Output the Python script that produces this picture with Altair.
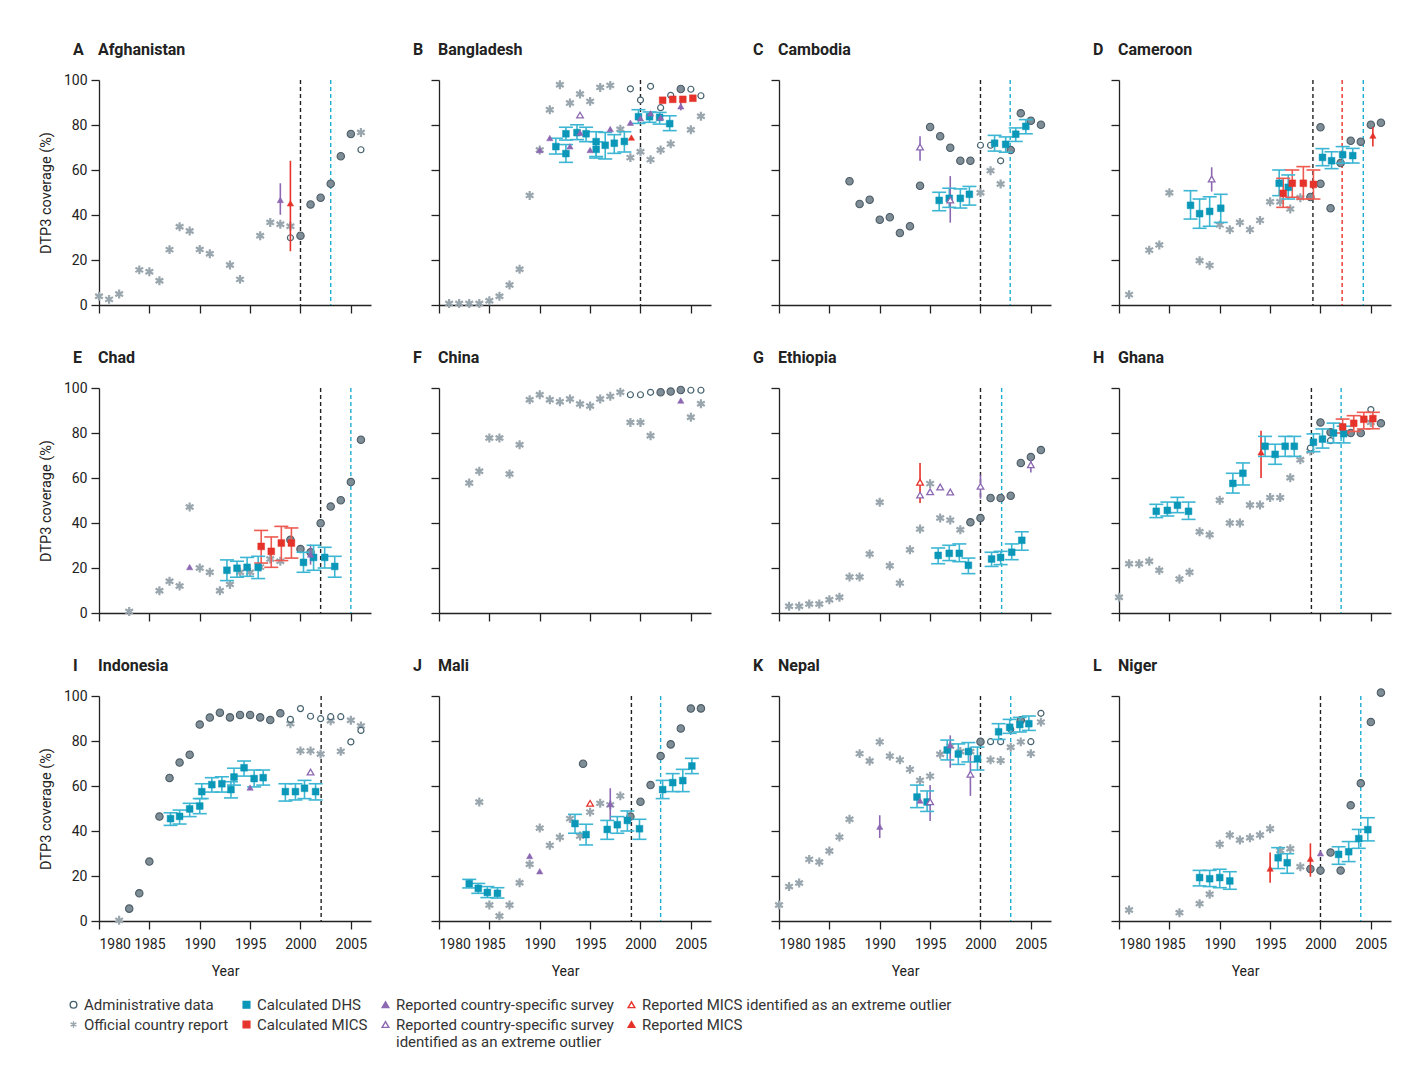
import altair as alt
import pandas as pd

FONT = "Roboto"

# ---------------- type names ----------------
T_ADMIN = "Administrative data"
T_OFF = "Official country report"
T_BOTH = "Administrative data and official country report"
T_DHS = "Calculated DHS"
T_CMICS = "Calculated MICS"
T_SURV = "Reported country-specific survey"
T_SURV_OUT = "Reported country-specific survey identified as an extreme outlier"
T_MICS_OUT = "Reported MICS identified as an extreme outlier"
T_RMICS = "Reported MICS"

# ---------------- data (year, value[, lo, hi]) ----------------
# A Afghanistan
AFG_OFFICIAL = [(1980, 3.9), (1981, 2.5), (1982, 4.9), (1984, 15.6), (1985, 14.8), (1986, 10.8), (1987, 24.6),
                (1988, 34.8), (1989, 32.9), (1990, 24.7), (1991, 22.8), (1993, 17.8), (1994, 11.4), (1996, 30.8),
                (1997, 36.7), (1998, 35.9), (1999, 35.0), (2006, 76.7)]
AFG_ADMIN = [(1999, 29.9), (2006, 69.0)]
AFG_BOTH = [(2000, 30.8), (2001, 44.7), (2002, 47.7), (2003, 53.9), (2004, 66.1), (2005, 76.0)]
AFG_SURVEY = [(1998, 46.7, 40.1, 54.1)]
AFG_RMICS = [(1999, 45.2, 23.9, 64.1)]
AFG_LINES = [(2000, "black"), (2003, "cyan")]

# B Bangladesh
BGD_OFFICIAL = [(1981, 0.7), (1982, 0.7), (1983, 0.7), (1984, 0.7), (1985, 1.9), (1986, 3.9), (1987, 8.9),
                (1988, 15.9), (1989, 48.7), (1990, 68.9), (1991, 86.8), (1992, 97.9), (1993, 89.8), (1994, 93.8),
                (1995, 90.5), (1996, 96.7), (1997, 97.6), (1998, 78.1), (1999, 65.5), (2000, 68.1), (2001, 64.6),
                (2002, 68.9), (2003, 71.6), (2005, 77.9), (2006, 83.9)]
BGD_ADMIN = [(1999, 96.1), (2000, 91.1), (2001, 97.2), (2002, 87.7), (2003, 93.2), (2005, 95.9), (2006, 93.0)]
BGD_BOTH = [(2004, 96.0)]
BGD_DHS = [(1991.6, 70.4, 67.1, 74.1), (1992.6, 76.1, 73.3, 79.0), (1992.6, 67.3, 63.4, 71.3),
           (1993.7, 76.6, 73.5, 80.1), (1994.6, 76.1, 72.6, 79.0), (1995.6, 72.6, 65.3, 77.0),
           (1995.6, 69.2, 66.0, 72.5), (1996.5, 71.0, 64.9, 76.7), (1997.4, 71.9, 67.4, 75.7),
           (1998.4, 72.7, 68.0, 77.0), (1999.8, 83.7, 80.7, 86.8), (2000.9, 83.7, 81.2, 85.8),
           (2001.9, 83.4, 80.4, 85.6), (2002.9, 80.6, 77.5, 84.1)]
BGD_CMICS = [(2002.2, 91.0), (2003.2, 91.4), (2004.2, 91.4), (2005.2, 91.9)]
BGD_SURVEY = [(1990, 68.9), (1991, 74.2), (1993, 70.5), (1994, 76.6), (1995, 68.9), (1997, 78.2), (1999, 81.0),
              (2000, 83.0), (2001, 85.2), (2002, 83.3), (2004, 88.3, 86.5, 90.5)]
BGD_SURVEY_OUT = [(1994, 84.4)]
BGD_RMICS = [(1999.1, 74.4)]
BGD_LINES = [(2000, "black")]

# C Cambodia
KHM_BOTH = [(1987, 55.0), (1988, 44.9), (1989, 46.8), (1990, 37.9), (1991, 39.0), (1992, 32.0), (1993, 35.0),
            (1994, 53.0), (1995, 79.1), (1996, 75.0), (1997, 69.9), (1998, 64.1), (1999, 64.1), (2003, 68.9),
            (2004, 85.2), (2005, 81.9), (2006, 80.1)]
KHM_ADMIN = [(2000, 71.0), (2001, 71.0), (2002, 64.1)]
KHM_OFFICIAL = [(2000, 49.9), (2001, 59.7), (2002, 53.8)]
KHM_DHS = [(1995.9, 46.5, 41.9, 50.1), (1996.9, 47.4, 43.4, 51.9), (1998.0, 47.4, 43.1, 51.6),
           (1998.9, 49.2, 44.4, 52.7), (2001.4, 71.9, 68.4, 75.4), (2002.5, 71.4, 67.9, 74.7),
           (2003.5, 75.9, 72.7, 78.7), (2004.5, 79.4, 76.1, 82.4)]
KHM_SURVEY_OUT = [(1994, 70.2, 64.1, 75.0), (1997, 46.7, 36.6, 57.3)]
KHM_LINES = [(2000, "black"), (2002.95, "cyan")]

# D Cameroon
CMR_OFFICIAL = [(1981, 4.6), (1983, 24.4), (1984, 26.7), (1985, 49.9), (1988, 19.7), (1989, 17.6), (1990, 35.6),
                (1991, 33.5), (1992, 36.7), (1993, 33.5), (1994, 37.6), (1995, 45.9), (1996, 45.9), (1997, 42.7),
                (1998, 47.7)]
CMR_BOTH = [(1999, 48.0), (2000, 79.0), (2000, 53.9), (2001, 43.0), (2002, 63.1), (2003, 73.0), (2004, 72.6),
            (2005, 80.1), (2006, 81.0)]
CMR_DHS = [(1987.1, 44.3, 38.2, 50.8), (1988.0, 40.6, 34.1, 47.1), (1989.0, 41.6, 35.0, 48.1),
           (1990.1, 43.0, 36.7, 49.2), (1995.9, 54.1, 48.6, 60.0), (1996.8, 52.3, 47.1, 57.8),
           (2000.2, 65.6, 61.9, 69.5), (2001.1, 64.1, 60.6, 68.1), (2002.2, 66.8, 63.0, 70.4),
           (2003.2, 66.4, 63.1, 69.6)]
CMR_CMICS = [(1996.3, 49.6, 43.4, 56.3), (1997.2, 54.1, 47.9, 60.0), (1998.3, 54.1, 47.1, 61.5),
             (1999.3, 53.6, 47.1, 60.0)]
CMR_SURVEY_OUT = [(1989.2, 56.0, 50.4, 61.2)]
CMR_RMICS = [(2005.2, 75.3, 70.4, 79.0)]
CMR_LINES = [(1999.25, "black"), (2002.15, "red"), (2004.25, "cyan")]

# E Chad
TCD_OFFICIAL = [(1983, 0.7), (1986, 9.9), (1987, 14.1), (1988, 12.0), (1989, 47.1), (1990, 20.0), (1991, 18.1),
                (1992, 9.9), (1993, 12.7), (1994, 18.1), (1995, 18.1), (1996, 20.4), (1997, 24.0), (1998, 23.0)]
TCD_BOTH = [(1999, 32.6), (2000, 28.4), (2001, 27.0), (2002, 39.9), (2003, 47.3), (2004, 50.1), (2005, 58.2),
            (2006, 77.0)]
TCD_SURVEY = [(1989, 20.4), (2001, 26.0, 21.5, 30.4)]
TCD_DHS = [(1992.7, 19.0, 14.4, 23.6), (1993.7, 19.9, 15.9, 23.0), (1994.7, 20.3, 16.3, 24.7),
           (1995.8, 20.3, 15.3, 25.2), (2000.3, 22.5, 18.1, 27.0), (2001.3, 24.7, 19.0, 30.1),
           (2002.4, 24.7, 20.0, 29.2), (2003.4, 20.7, 15.9, 25.2)]
TCD_CMICS = [(1996.1, 29.6, 22.2, 36.7), (1997.1, 27.4, 20.3, 33.8), (1998.1, 31.1, 23.3, 38.5),
             (1999.1, 31.1, 24.4, 37.8)]
TCD_LINES = [(2002, "black"), (2005, "cyan")]

# F China
CHN_OFFICIAL = [(1983, 57.8), (1984, 63.0), (1985, 77.8), (1986, 77.8), (1987, 61.8), (1988, 74.8), (1989, 94.8),
                (1990, 97.0), (1991, 94.8), (1992, 93.9), (1993, 95.1), (1994, 92.9), (1995, 92.0), (1996, 95.1),
                (1997, 96.3), (1998, 98.1), (1999, 84.7), (2000, 84.7), (2001, 78.8), (2005, 87.0), (2006, 93.0)]
CHN_ADMIN = [(1999, 97.0), (2000, 97.0), (2001, 98.1), (2005, 99.0), (2006, 99.0)]
CHN_BOTH = [(2002, 98.1), (2003, 98.4), (2004, 99.1)]
CHN_SURVEY = [(2004, 94.4)]
CHN_LINES = []

# G Ethiopia
ETH_OFFICIAL = [(1981, 3.0), (1982, 3.0), (1983, 4.0), (1984, 4.0), (1985, 5.9), (1986, 7.0), (1987, 16.0),
                (1988, 16.0), (1989, 26.2), (1990, 49.2), (1991, 21.0), (1992, 13.3), (1993, 28.1), (1994, 37.3),
                (1995, 57.5), (1996, 42.2), (1997, 41.3), (1998, 37.0)]
ETH_BOTH = [(1999, 40.3), (2000, 42.2), (2001, 51.1), (2002, 51.1), (2003, 52.1), (2004, 66.7), (2005, 69.3),
            (2006, 72.4)]
ETH_MICS_OUT = [(1994, 58.1, 48.9, 66.7)]
ETH_SURVEY_OUT = [(1994, 52.4), (1995, 53.9), (1996, 56.0), (1997, 53.8), (2000, 56.3, 50.8, 61.5),
                  (2005, 65.9, 62.5, 68.1)]
ETH_DHS = [(1995.8, 25.6, 21.9, 28.9), (1996.9, 26.5, 23.3, 30.1), (1997.9, 26.5, 22.8, 30.7),
           (1998.8, 21.2, 17.5, 24.4), (2001.1, 24.0, 20.7, 27.0), (2002.0, 24.7, 21.5, 27.4),
           (2003.1, 27.0, 23.7, 30.7), (2004.1, 32.3, 27.9, 36.1)]
ETH_LINES = [(2000, "black"), (2002.1, "cyan")]

# H Ghana
GHA_OFFICIAL = [(1980, 7.0), (1981, 21.9), (1982, 21.9), (1983, 23.0), (1984, 19.0), (1986, 15.1), (1987, 18.1),
                (1988, 36.1), (1989, 34.8), (1990, 50.1), (1991, 40.0), (1992, 40.0), (1993, 48.0), (1994, 48.0),
                (1995, 51.3), (1996, 51.3), (1997, 60.1), (1998, 68.1), (1999, 72.0), (2005, 84.7)]
GHA_ADMIN = [(1999, 73.3), (2001, 76.6), (2005, 90.4)]
GHA_BOTH = [(2000, 84.7), (2001, 80.3), (2003, 80.0), (2004, 80.0), (2006, 84.3)]
GHA_DHS = [(1983.7, 45.2, 42.4, 48.3), (1984.8, 45.6, 43.1, 49.3), (1985.8, 47.9, 44.6, 51.4),
           (1986.9, 45.2, 41.6, 49.3), (1991.3, 57.6, 53.3, 62.1), (1992.3, 62.1, 56.9, 66.7),
           (1994.5, 74.1, 69.6, 78.5), (1995.5, 70.5, 66.1, 75.0), (1996.5, 74.1, 69.6, 78.5),
           (1997.4, 74.1, 69.6, 78.5), (1999.3, 75.9, 71.7, 79.6), (2000.2, 77.3, 73.3, 81.8),
           (2001.3, 80.0, 75.6, 84.4), (2002.3, 79.7, 75.6, 83.0)]
GHA_CMICS = [(2002.2, 82.7, 80.0, 86.2), (2003.3, 84.3, 80.7, 87.7), (2004.3, 86.1, 81.8, 89.2),
             (2005.2, 86.4, 81.9, 89.2)]
GHA_RMICS = [(1994.1, 71.4, 60.0, 81.0)]
GHA_LINES = [(1999.1, "black"), (2002.05, "cyan")]

# I Indonesia
IDN_BOTH = [(1983, 5.5), (1984, 12.3), (1985, 26.4), (1986, 46.4), (1987, 63.6), (1988, 70.4), (1989, 73.9),
            (1990, 87.3), (1991, 90.4), (1992, 92.6), (1993, 90.5), (1994, 91.6), (1995, 91.6), (1996, 90.5),
            (1997, 89.3), (1998, 92.3)]
IDN_OFFICIAL = [(1982, 0.3), (1999, 87.7), (2000, 75.6), (2001, 75.6), (2002, 74.2), (2003, 89.0), (2004, 75.4),
                (2005, 89.2), (2006, 86.7)]
IDN_ADMIN = [(1999, 89.6), (2000, 94.4), (2001, 91.0), (2002, 89.9), (2003, 90.8), (2004, 90.8), (2005, 79.6),
             (2006, 84.7)]
IDN_DHS = [(1987.1, 45.5, 42.5, 48.1), (1988.0, 46.5, 43.1, 49.3), (1989.0, 49.8, 46.4, 52.3),
           (1990.0, 51.1, 47.7, 54.4), (1990.2, 57.5, 54.4, 61.0), (1991.2, 60.6, 57.3, 63.7),
           (1992.2, 61.0, 57.3, 64.1), (1993.1, 58.4, 54.7, 61.9), (1993.4, 64.0, 60.4, 67.9),
           (1994.4, 68.1, 64.4, 71.1), (1995.4, 63.3, 59.6, 67.1), (1996.3, 63.7, 60.4, 67.1),
           (1998.5, 57.5, 53.3, 61.0), (1999.5, 57.5, 53.8, 61.0), (2000.4, 59.0, 54.4, 62.5),
           (2001.5, 57.5, 53.8, 61.0)]
IDN_SURVEY = [(1995, 59.3)]
IDN_SURVEY_OUT = [(2001, 66.2)]
IDN_LINES = [(2002.05, "black")]

# J Mali
MLI_OFFICIAL = [(1984, 52.9), (1985, 7.1), (1986, 2.2), (1987, 7.1), (1988, 17.0), (1989, 25.2), (1990, 41.3),
                (1991, 33.6), (1992, 37.2), (1993, 45.5), (1994, 37.8), (1995, 48.4), (1996, 52.3), (1997, 51.6),
                (1998, 55.6)]
MLI_BOTH = [(1994.3, 69.9), (1999, 46.4), (2000, 53.0), (2001, 60.4), (2002, 73.3), (2003, 78.5), (2004, 85.6),
            (2005, 94.4), (2006, 94.5)]
MLI_SURVEY = [(1989, 28.9), (1990, 22.1), (1997, 52.0, 44.9, 59.0)]
MLI_MICS_OUT = [(1995, 52.3)]
MLI_DHS = [(1983.0, 16.6, 14.7, 18.5), (1983.9, 14.5, 12.3, 16.7), (1984.8, 12.7, 10.4, 15.3),
           (1985.8, 12.3, 10.2, 14.8), (1993.5, 43.3, 39.0, 47.4), (1994.6, 38.4, 33.8, 43.0),
           (1996.7, 40.7, 36.3, 44.7), (1997.7, 42.8, 39.0, 46.4), (1998.7, 44.7, 40.0, 48.9),
           (1999.9, 41.0, 36.3, 45.2), (2002.2, 58.4, 54.4, 62.5), (2003.2, 61.5, 57.5, 65.5),
           (2004.2, 62.4, 57.5, 67.4), (2005.1, 68.9, 65.5, 72.3)]
MLI_LINES = [(1999.1, "black"), (2002, "cyan")]

# K Nepal
NPL_OFFICIAL = [(1980, 7.1), (1981, 15.3), (1982, 16.9), (1983, 27.4), (1984, 26.2), (1985, 31.1), (1986, 37.3),
                (1987, 45.2), (1988, 74.4), (1989, 71.1), (1990, 79.6), (1991, 73.3), (1992, 71.6), (1993, 67.4),
                (1994, 62.5), (1995, 64.4), (1996, 74.1), (1997, 77.8), (1998, 75.3), (1999, 75.3), (2001, 71.6),
                (2002, 71.3), (2003, 77.2), (2004, 79.6), (2005, 74.4), (2006, 88.4)]
NPL_BOTH = [(2000, 79.7), (2004, 89.2)]
NPL_ADMIN = [(2001, 79.7), (2002, 79.7), (2003, 85.2), (2005, 79.7), (2006, 92.3)]
NPL_DHS = [(1993.7, 55.1, 50.4, 60.4), (1994.7, 52.9, 48.7, 57.8), (1996.7, 76.0, 71.6, 80.4),
           (1997.8, 74.2, 69.6, 78.7), (1998.8, 75.3, 70.7, 79.3), (1999.7, 72.1, 67.1, 77.3),
           (2001.8, 84.1, 80.7, 87.7), (2002.9, 86.1, 83.4, 89.6), (2003.9, 87.3, 84.0, 90.5),
           (2004.8, 87.7, 84.7, 91.1)]
NPL_SURVEY = [(1990, 41.9, 36.9, 47.0), (1994, 53.5), (1997, 78.1, 68.1, 82.5)]
NPL_SURVEY_OUT = [(1995, 53.0, 44.4, 60.4), (1999, 65.2, 55.6, 73.3)]
NPL_LINES = [(2000, "black"), (2003, "cyan")]

# L Niger
NER_OFFICIAL = [(1981, 4.9), (1986, 3.7), (1988, 7.7), (1989, 11.9), (1990, 34.1), (1991, 38.2), (1992, 36.0),
                (1993, 37.0), (1994, 38.2), (1995, 41.0), (1996, 31.3), (1997, 32.1), (1998, 24.1)]
NER_BOTH = [(1999, 23.1), (2000, 22.4), (2001, 30.4), (2002, 22.4), (2003, 51.4), (2004, 61.2), (2005, 88.4),
            (2006, 101.5)]
NER_SURVEY = [(2000, 30.1)]
NER_RMICS = [(1995, 23.3, 17.0, 30.4), (1999, 27.7, 19.7, 34.5)]
NER_DHS = [(1988.0, 19.3, 15.6, 22.5), (1989.0, 18.8, 15.3, 22.5), (1990.0, 19.3, 14.8, 23.0),
           (1991.0, 17.8, 14.1, 21.9), (1995.8, 28.1, 23.3, 32.6), (1996.7, 25.9, 21.2, 29.9),
           (2001.8, 29.6, 25.2, 33.0), (2002.8, 30.8, 26.4, 35.3), (2003.8, 36.6, 32.3, 40.7),
           (2004.7, 40.6, 35.6, 45.9)]
NER_LINES = [(2000, "black"), (2004, "cyan")]

PANELS = [
    ("A", "Afghanistan", {T_OFF: AFG_OFFICIAL, T_ADMIN: AFG_ADMIN, T_BOTH: AFG_BOTH, T_SURV: AFG_SURVEY,
                          T_RMICS: AFG_RMICS}, AFG_LINES),
    ("B", "Bangladesh", {T_OFF: BGD_OFFICIAL, T_ADMIN: BGD_ADMIN, T_BOTH: BGD_BOTH, T_DHS: BGD_DHS,
                         T_CMICS: BGD_CMICS, T_SURV: BGD_SURVEY, T_SURV_OUT: BGD_SURVEY_OUT,
                         T_RMICS: BGD_RMICS}, BGD_LINES),
    ("C", "Cambodia", {T_OFF: KHM_OFFICIAL, T_ADMIN: KHM_ADMIN, T_BOTH: KHM_BOTH, T_DHS: KHM_DHS,
                       T_SURV_OUT: KHM_SURVEY_OUT}, KHM_LINES),
    ("D", "Cameroon", {T_OFF: CMR_OFFICIAL, T_BOTH: CMR_BOTH, T_DHS: CMR_DHS, T_CMICS: CMR_CMICS,
                       T_SURV_OUT: CMR_SURVEY_OUT, T_RMICS: CMR_RMICS}, CMR_LINES),
    ("E", "Chad", {T_OFF: TCD_OFFICIAL, T_BOTH: TCD_BOTH, T_DHS: TCD_DHS, T_CMICS: TCD_CMICS,
                   T_SURV: TCD_SURVEY}, TCD_LINES),
    ("F", "China", {T_OFF: CHN_OFFICIAL, T_ADMIN: CHN_ADMIN, T_BOTH: CHN_BOTH, T_SURV: CHN_SURVEY}, CHN_LINES),
    ("G", "Ethiopia", {T_OFF: ETH_OFFICIAL, T_BOTH: ETH_BOTH, T_DHS: ETH_DHS, T_MICS_OUT: ETH_MICS_OUT,
                       T_SURV_OUT: ETH_SURVEY_OUT}, ETH_LINES),
    ("H", "Ghana", {T_OFF: GHA_OFFICIAL, T_ADMIN: GHA_ADMIN, T_BOTH: GHA_BOTH, T_DHS: GHA_DHS,
                    T_CMICS: GHA_CMICS, T_RMICS: GHA_RMICS}, GHA_LINES),
    ("I", "Indonesia", {T_OFF: IDN_OFFICIAL, T_ADMIN: IDN_ADMIN, T_BOTH: IDN_BOTH, T_DHS: IDN_DHS,
                        T_SURV: IDN_SURVEY, T_SURV_OUT: IDN_SURVEY_OUT}, IDN_LINES),
    ("J", "Mali", {T_OFF: MLI_OFFICIAL, T_BOTH: MLI_BOTH, T_DHS: MLI_DHS, T_SURV: MLI_SURVEY,
                   T_MICS_OUT: MLI_MICS_OUT}, MLI_LINES),
    ("K", "Nepal", {T_OFF: NPL_OFFICIAL, T_ADMIN: NPL_ADMIN, T_BOTH: NPL_BOTH, T_DHS: NPL_DHS,
                    T_SURV: NPL_SURVEY, T_SURV_OUT: NPL_SURVEY_OUT}, NPL_LINES),
    ("L", "Niger", {T_OFF: NER_OFFICIAL, T_BOTH: NER_BOTH, T_DHS: NER_DHS, T_SURV: NER_SURVEY,
                    T_RMICS: NER_RMICS}, NER_LINES),
]

X_TICKS = [1980, 1985, 1990, 1995, 2000, 2005]
Y_TICKS = [0, 20, 40, 60, 80, 100]

# ---------------- build tables ----------------
pt_rows, line_rows = [], []
for letter, name, series, lines in PANELS:
    for t, pts in series.items():
        for p in pts:
            pt_rows.append({"panel": name, "year": p[0], "value": p[1],
                            "lo": p[2] if len(p) > 2 else None,
                            "hi": p[3] if len(p) > 3 else None, "type": t})
    for yr, kind in lines:
        line_rows.append({"panel": name, "year": yr, "kind": kind})
pts_df = pd.DataFrame(pt_rows)
lines_df = pd.DataFrame(line_rows)

# ---------------- styles ----------------
GRAY = "#9aa6ae"
SLATE = "#46626e"
BOTH_FILL = "#7f8d96"
BOTH_STROKE = "#4d5d67"
TEAL = "#0a97b8"
TEAL_BAR = "#3cb6d3"
RED = "#e5322a"
RED_BAR = "#ee5a51"
PURPLE = "#8c68b2"
ASTER = "M0,-1L0,1M-0.866,-0.5L0.866,0.5M-0.866,0.5L0.866,-0.5"

TYPES = [T_ADMIN, T_OFF, T_BOTH, T_DHS, T_CMICS, T_SURV, T_SURV_OUT, T_MICS_OUT, T_RMICS]
SHAPES = ["circle", ASTER, "circle", "square", "square", "triangle-up", "triangle-up", "triangle-up", "triangle-up"]
FILLS = ["#ffffff", GRAY, BOTH_FILL, TEAL, RED, PURPLE, "#ffffff", "#ffffff", RED]
STROKES = [SLATE, GRAY, BOTH_STROKE, TEAL, RED, PURPLE, PURPLE, RED, RED]
# legend entries, column by column (two rows)
LEGEND_ORDER = [T_ADMIN, T_OFF, T_DHS, T_CMICS, T_SURV, T_SURV_OUT, T_MICS_OUT, T_RMICS]
BAR_TYPES = [T_DHS, T_CMICS, T_SURV, T_SURV_OUT, T_MICS_OUT, T_RMICS]
BAR_COLS = [TEAL_BAR, RED_BAR, PURPLE, PURPLE, RED, RED]
LINE_COLS = {"black": "#222222", "cyan": "#1eaed2", "red": "#e8332b"}

LEG = alt.Legend(
    title=None, values=LEGEND_ORDER, orient="none", legendX=-33, legendY=917, columns=4,
    labelFont=FONT, labelFontSize=15, labelColor="#333333", labelLimit=400, labelOffset=3,
    symbolSize=45, symbolStrokeWidth=1.4, columnPadding=10, rowPadding=4, padding=0,
    labelExpr=("datum.label == '" + T_SURV_OUT + "' ? ['Reported country-specific survey', "
               "'identified as an extreme outlier'] : datum.label"),
)


def enc_points():
    return dict(
        shape=alt.Shape("type:N", scale=alt.Scale(domain=TYPES, range=SHAPES), legend=LEG),
        fill=alt.Fill("type:N", scale=alt.Scale(domain=TYPES, range=FILLS), legend=LEG),
        stroke=alt.Stroke("type:N", scale=alt.Scale(domain=TYPES, range=STROKES), legend=LEG),
    )


def panel(i, letter, name):
    r, c = divmod(i, 4)
    xaxis = alt.Axis(values=X_TICKS, format="d", labels=(r == 2), title=("Year" if r == 2 else None),
                     titleX=126, titlePadding=13, titleFontSize=14, labelPadding=8)
    yaxis = alt.Axis(values=Y_TICKS, labels=(c == 0), title=("DTP3 coverage (%)" if c == 0 else None),
                     titlePadding=10, labelPadding=4)
    xs = alt.Scale(domain=[1980, 2007], nice=False, zero=False)
    ys = alt.Scale(domain=[0, 100], nice=False, zero=False)

    def X():
        return alt.X("year:Q", scale=xs, axis=xaxis)

    def Y(f):
        return alt.Y(f + ":Q", scale=ys, axis=yaxis)

    base = alt.Chart(pts_df).transform_filter(alt.datum.panel == name)
    layers = []
    lbase = alt.Chart(lines_df).transform_filter(alt.datum.panel == name)
    for kind, col in LINE_COLS.items():
        layers.append(lbase.transform_filter(alt.datum.kind == kind)
                      .mark_rule(strokeDash=[4, 3], strokeWidth=1.4, color=col)
                      .encode(x=X()))

    def pts(types, size, sw):
        cond = " || ".join("datum.type == '%s'" % t for t in types)
        return base.transform_filter(cond).mark_point(size=size, strokeWidth=sw, opacity=1, fillOpacity=1).encode(
            x=X(), y=Y("value"), **enc_points())

    layers.append(pts([T_OFF], 80, 2.2))
    layers.append(pts([T_ADMIN], 36, 1.2))
    layers.append(pts([T_BOTH], 55, 1.1))

    bar_color = alt.Color("type:N", scale=alt.Scale(domain=BAR_TYPES, range=BAR_COLS), legend=None)
    bars = base.transform_filter("isValid(datum.lo)")
    layers.append(bars.mark_rule(strokeWidth=1.6).encode(x=X(), y=Y("lo"), y2="hi:Q", color=bar_color))
    capf = "isValid(datum.lo) && (datum.type == '%s' || datum.type == '%s')" % (T_DHS, T_CMICS)
    for f in ["lo", "hi"]:
        layers.append(bars.transform_filter(capf).mark_point(shape="stroke", size=196, strokeWidth=1.6, opacity=1)
                      .encode(x=X(), y=Y(f), color=bar_color))

    layers.append(pts([T_DHS], 46, 0.5))
    layers.append(pts([T_CMICS], 46, 0.5))
    layers.append(pts([T_SURV, T_RMICS], 40, 0.5))
    layers.append(pts([T_SURV_OUT, T_MICS_OUT], 44, 1.3))

    for txt, dx in [(letter, -26), (name, -1)]:
        layers.append(alt.Chart(alt.Data(values=[{"t": txt}])).mark_text(
            align="left", baseline="middle", font=FONT, fontSize=16, fontWeight="bold", color="#222222"
        ).encode(text="t:N", x=alt.value(dx), y=alt.value(-30)))

    return alt.layer(*layers).properties(width=272, height=225)


panels = [panel(i, p[0], p[1]) for i, p in enumerate(PANELS)]

chart = alt.concat(*panels, columns=4, spacing={"row": 83, "column": 68}, bounds="flush").properties(
    padding={"left": 30, "top": 34, "right": 5, "bottom": 5}
).configure(font=FONT).configure_view(stroke=None).configure_axis(
    grid=False, domainColor="#222222", domainWidth=1.3, tickColor="#222222", tickWidth=1.3, tickSize=8,
    labelFont=FONT, labelFontSize=14, labelColor="#222222", titleFont=FONT, titleFontSize=14.5,
    titleFontWeight="normal", titleColor="#222222"
)

chart.save("out.html", embed_options={"renderer": "svg", "actions": False})
